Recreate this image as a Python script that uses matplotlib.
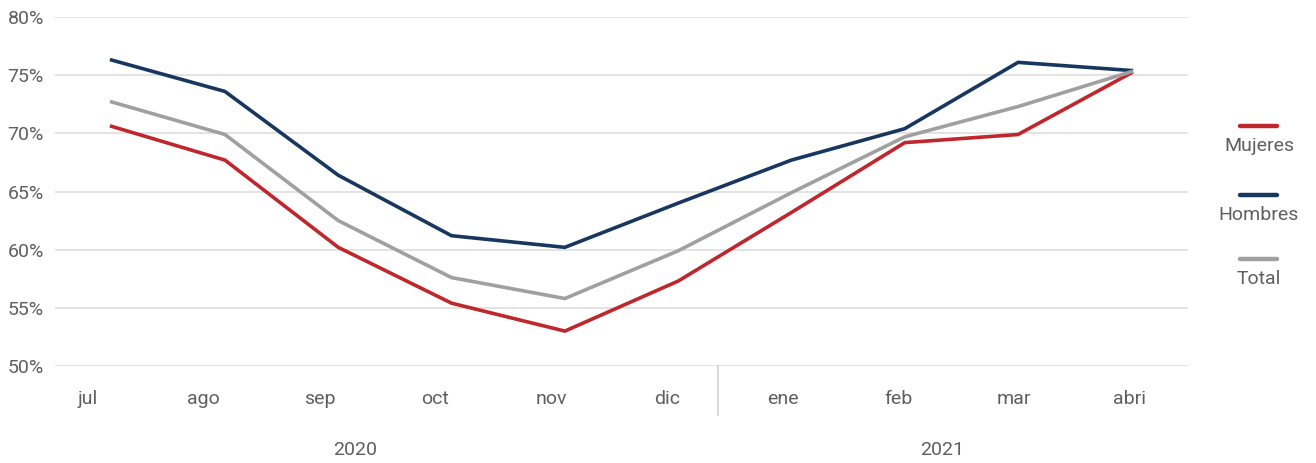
import matplotlib
matplotlib.use("Agg")
import matplotlib.pyplot as plt
from matplotlib.lines import Line2D
from matplotlib.ticker import FuncFormatter

months = ["jul", "ago", "sep", "oct", "nov", "dic", "ene", "feb", "mar", "abri"]
years = ["2020", "2021"]
mujeres = [70.6, 67.7, 60.2, 55.4, 53.0, 57.3, 63.2, 69.2, 69.9, 75.2]
hombres = [76.3, 73.6, 66.4, 61.2, 60.2, 64.0, 67.7, 70.4, 76.1, 75.4]
total = [72.7, 69.9, 62.5, 57.6, 55.8, 59.9, 64.9, 69.7, 72.3, 75.3]
series_names = ["Mujeres", "Hombres", "Total"]

colors = {"Mujeres": "#C0272D", "Hombres": "#17375E", "Total": "#A0A0A0"}
txt = "#5F5F5F"
fs = 14
plt.rcParams['font.family'] = ['Roboto', 'DejaVu Sans']

fig = plt.figure(figsize=(13.16, 4.63), dpi=100)
W, H = 1316, 463
ax = fig.add_axes([55 / W, 1 - 366 / H, (1188 - 55) / W, (366 - 17) / H])

x = list(range(len(months)))
for name, vals in zip(series_names, [mujeres, hombres, total]):
    ax.plot(x, vals, color=colors[name], lw=2.6, solid_joinstyle='miter', zorder=3)

ax.set_xlim(-0.5, len(months) - 0.5)
ax.set_ylim(50, 80)
ax.set_yticks(range(50, 81, 5))
ax.yaxis.set_major_formatter(FuncFormatter(lambda v, p: f"{int(v)}%"))
ax.tick_params(axis='y', length=0, labelsize=fs, labelcolor=txt, pad=8)
ax.set_xticks([])
ax.grid(axis='y', color='#DEDEDE', lw=1.2)
ax.set_axisbelow(True)
for s in ax.spines.values():
    s.set_visible(False)

# month labels (multi-level category axis)
lab_left = -0.0221
lab_step = 0.1022
for i, m in enumerate(months):
    ax.text(lab_left + (i + 0.5) * lab_step, -0.095, m, transform=ax.transAxes,
            ha='center', va='center', fontsize=fs, color=txt)
sep_x = lab_left + 6 * lab_step - 0.006
ax.add_line(Line2D([sep_x, sep_x], [0, -0.14], transform=ax.transAxes,
                   color='#D9D9D9', lw=1.5, clip_on=False))
for yx, yr in zip([0.265, 0.783], years):
    ax.text(yx, -0.24, yr, transform=ax.transAxes, ha='center', va='center',
            fontsize=fs, color=txt)

# legend
leg_y = [126, 195, 259]
for name, ly in zip(series_names, leg_y):
    fig.add_artist(Line2D([1240 / W, 1277 / W], [1 - ly / H, 1 - ly / H],
                          color=colors[name], lw=3.2, solid_capstyle='round'))
    fig.text(1259 / W, 1 - (ly + 20) / H, name, ha='center', va='center',
             fontsize=fs, color=txt)

fig.savefig("out.png", dpi=100)
